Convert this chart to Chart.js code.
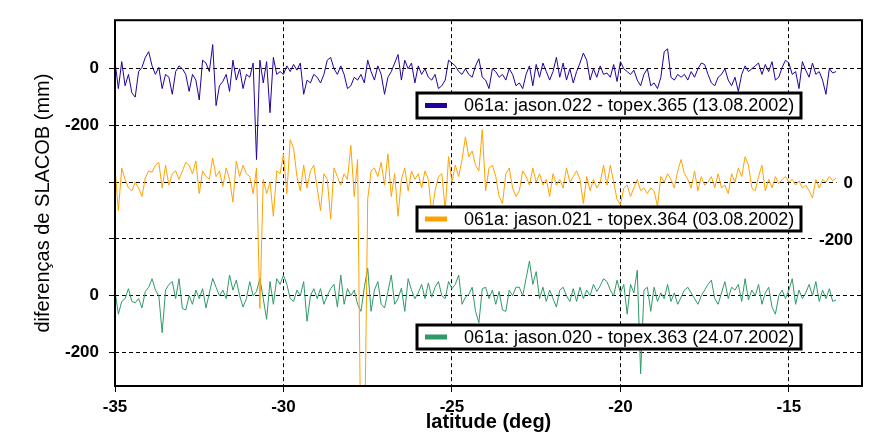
<!DOCTYPE html>
<html>
<head>
<meta charset="utf-8">
<style>
  html, body { margin: 0; padding: 0; background: #fff; }
  canvas { display: block; }
</style>
</head>
<body>
<canvas id="slacobChart" width="896" height="446"></canvas>
<script src="https://cdn.jsdelivr.net/npm/chart.js@4/dist/chart.umd.min.js"></script>
<script>
// latitude grid of the samples (deg), one sample every 0.1 deg from -35.0
const latStart = -35.0;
const latStep = 0.1;

// SLACOB differences (mm), -35.0 ... -13.6
const jason022 = [
  25, -70, 25, -60, -20, -85, -100, -10, 5, 40,
  60, 10, -20, 5, -70, -20, -30, -90, -10, 10,
  0, -20, -80, -20, -40, -110, 30, 20, -10, 85,
  -130, -60, -45, -20, -80, 30, -40, 0, -70, -20,
  -30, 20, -320, 30, -50, 25, -155, 40, -20, -10,
  -20, 10, -10, 15, -5, 20, -90, -40, -50, -20,
  -30, -50, -20, 30, 40, 0, -20, 10, -20, -70,
  -60, -30, -40, -20, -50, 30, -10, -40, 10, -20,
  -90, -30, -10, 20, 50, -40, 30, 0, 20, -50,
  10, -20, 0, -30, -40, -20, -70, -60, -40, 30,
  20, 10, -10, -20, 0, -20, -30, 10, 35, -30,
  -40, -70, 0, -10, -30, -20, -40, 0, -20, -60,
  -50, -70, -20, 10, -60, 15, -30, 20, -10, -40,
  -10, 40, -30, 20, -40, 0, -50, -10, 20, 55,
  30, -40, 0, -30, 10, -20, -15, -30, 15, -45,
  25, 0, -10, -20, -5, -40, -60, -20, 0, -60,
  -50, -70, -30, 60, 70, -30, -40, -20, -30, -20,
  -40, -10, -30, 0, 20, 15, -20, -50, -60, -30,
  -20, 0, -40, -60, -30, -80, -20, 10, -10, 0,
  10, 20, -20, 15, -10, 25, -40, -30, 5, 30,
  20, -20, -10, -70, 25, -5, -30, 20, -20, -10,
  -40, -90, 0, -15, -10
];
const jason021 = [
  50, -100, 50, 10, -20, -30, 0, -20, -50, 15,
  40, 35, 60, 70, -20, 60, -10, 30, 40, 10,
  40, 70, 60, 30, 75, -40, 40, 20, 10, 85,
  20, 40, -15, 50, 10, -70, 75, 20, 60, 30,
  20, -40, 50, -445, 10, -40, 0, -120, 40, 30,
  100, -40, 150, 120, 20, -30, 60, -20, 40, 60,
  -20, -100, 30, 10, -130, 50, 20, -10, 30, 10,
  130, -50, 80, -1000, -1000, -60, 40, 50, 20, 70,
  -10, 100, -50, 30, -120, 10, 50, -30, 40, 10,
  30, -20, 40, 10, -110, -30, 20, 30, -100, 90,
  0, 60, 20, 80, 160, 90, 110, 60, 40, 185,
  -30, 50, 60, 20, -50, -75, 30, 50, -20, -50,
  -30, 40, 20, -10, 50, 0, 30, -10, 10, -50,
  30, -10, 10, -20, 50, 0, 20, 40, 10, -75,
  20, -30, 10, -20, 0, 60, -10, 60, 0, -60,
  -80, -20, -10, -50, -20, 10, -30, -20, -40, -20,
  -30, -85, 20, 0, 30, 10, -20, 40, 80, 30,
  10, -20, 40, -30, 20, -10, 0, 20, -20, 30,
  -20, -10, -40, 30, 0, 50, 20, 90, 60, -20,
  -30, 20, 60, -30, 10, -20, 20, -5, 10, 20,
  0, 10, -10, 5, -20, -10, -30, -55, 10, -20,
  10, 0, 20, 5, 15
];
const jason020 = [
  15, -65, -20, -10, 25, -20, -25, -10, -43, 15,
  30, 60, 20, 0, -130, 20, 40, 50, -10, 60,
  -45, -50, 0, -30, 20, -10, 25, -43, 10, 61,
  30, 0, 20, -10, 73, 20, 55, 0, -40, -10,
  50, 0, 15, 60, -10, -83, 50, -30, 60, 40,
  73, 40, -10, -20, 20, 0, 50, -90, 0, 25,
  -10, 25, -30, 0, 25, 40, -40, 73, -30, 25,
  0, 20, -30, -55, 30, 97, -55, 20, 50, -30,
  -43, 15, 73, -30, -10, 27, -55, 60, 20, -10,
  10, 40, -10, 45, -5, 30, 50, 0, -10, 50,
  25, 40, 73, -30, -5, 5, 30, -55, -95, 25,
  30, -10, 20, -30, 15, -50, -55, 20, 0, 30,
  30, 0, 61, 122, 40, 85, -10, 30, -20, 20,
  -10, -40, 20, 30, 0, -20, 25, -20, 30, -10,
  20, 0, 40, 15, 35, 60, 50, 20, 0, 55,
  10, 40, -65, 40, 10, 90, -275, 20, 30, -55,
  30, -20, 10, -10, 40, -20, 10, -30, -5, 20,
  30, 10, -10, -30, 0, 20, 40, 55, -10, -30,
  10, 50, -10, 30, 20, 40, -20, 60, -15, 20,
  0, 40, -30, 10, 30, -40, -65, 0, 20, -10,
  20, 60, -30, 20, -10, 10, 40, 0, 50, -20,
  20, -10, 25, -20, -15
];

const seriesData = [jason022, jason021, jason020];
const seriesLabels = [
  "061a: jason.022 - topex.365 (13.08.2002)",
  "061a: jason.021 - topex.364 (03.08.2002)",
  "061a: jason.020 - topex.363 (24.07.2002)"
];
const seriesColors = ["#24009c", "#ffa200", "#2f9a66"];
// each trace is shifted down the common axis so they stack
const seriesOffsets = [0, -400, -800];

// tick labels: left axis shows the top and bottom trace, right side the middle one
const leftTickLabels = { "0": "0", "-200": "-200", "-800": "0", "-1000": "-200" };
const rightTickValues = [-400, -600];
const rightTickLabels = ["0", "-200"];

const FONT = 'Arial, "Liberation Sans", sans-serif';

const datasets = seriesData.map((values, s) => ({
  label: seriesLabels[s],
  data: values.map((v, i) => ({ x: latStart + i * latStep, y: v + seriesOffsets[s] })),
  borderColor: seriesColors[s],
  borderWidth: 1,
  pointRadius: 0,
  tension: 0,
  fill: false,
}));

const overlay = {
  id: "overlay",
  afterDatasetsDraw(chart) {
    const { ctx, chartArea: a, scales: { y } } = chart;
    ctx.save();

    // labels of the middle trace, on white, inside the right edge
    ctx.font = "bold 17px " + FONT;
    ctx.textAlign = "right";
    ctx.textBaseline = "middle";
    rightTickValues.forEach((v, i) => {
      const py = y.getPixelForValue(v);
      const w = ctx.measureText(rightTickLabels[i]).width;
      const x0 = 853 - w - 7;
      ctx.fillStyle = "#fff";
      ctx.fillRect(x0, py - 10, a.right - x0, 20);
      ctx.fillStyle = "#000";
      ctx.fillText(rightTickLabels[i], 853, py + 1);
    });

    // one legend box per trace
    const boxes = [[417, 93, 384, 25], [417, 207, 384, 24], [417, 325, 384, 24]];
    ctx.font = "18px " + FONT;
    ctx.textAlign = "left";
    boxes.forEach(([bx, by, bw, bh], i) => {
      ctx.fillStyle = "#fff";
      ctx.fillRect(bx, by, bw, bh);
      ctx.strokeStyle = "#000";
      ctx.lineWidth = 3;
      ctx.strokeRect(bx, by, bw, bh);
      const cy = by + bh / 2;
      ctx.strokeStyle = seriesColors[i];
      ctx.lineWidth = 5;
      ctx.beginPath();
      ctx.moveTo(425, cy);
      ctx.lineTo(447, cy);
      ctx.stroke();
      ctx.fillStyle = "#000";
      ctx.fillText(seriesLabels[i], 464, cy + 1);
    });

    // plot frame
    ctx.strokeStyle = "#000";
    ctx.lineWidth = 2;
    ctx.strokeRect(a.left, a.top, a.right - a.left, a.bottom - a.top);
    ctx.restore();
  },
};

new Chart(document.getElementById("slacobChart").getContext("2d"), {
  type: "line",
  data: { datasets },
  options: {
    responsive: false,
    animation: false,
    events: [],
    layout: { padding: { left: 0, right: 34, top: 16, bottom: 0 } },
    plugins: { legend: { display: false }, tooltip: { enabled: false } },
    scales: {
      x: {
        type: "linear",
        min: -35,
        max: -12.83,
        afterFit: (scale) => { scale.height = 60; },
        ticks: {
          stepSize: 5,
          includeBounds: false,
          color: "#000",
          padding: 5,
          maxRotation: 0,
          font: { family: FONT, size: 17, weight: "bold" },
        },
        grid: { color: "#000", lineWidth: 1, tickLength: 6 },
        border: { display: false, dash: [4, 3] },
        title: {
          display: true,
          text: "latitude (deg)",
          color: "#000",
          font: { family: FONT, size: 20, weight: "bold" },
          padding: { top: 0, bottom: 12 },
        },
      },
      y: {
        type: "linear",
        min: -1118,
        max: 171,
        afterFit: (scale) => { scale.width = 115; },
        ticks: {
          stepSize: 200,
          includeBounds: false,
          color: "#000",
          padding: 10,
          font: { family: FONT, size: 17, weight: "bold" },
          callback: (v) => leftTickLabels[String(v)] || "",
        },
        grid: { color: "#000", lineWidth: 1, tickLength: 6 },
        border: { display: false, dash: [4, 3] },
        title: {
          display: true,
          text: "diferenças de SLACOB (mm)",
          color: "#000",
          font: { family: FONT, size: 20 },
          padding: { top: 31, bottom: 0 },
        },
      },
    },
  },
  plugins: [overlay],
});
</script>
</body>
</html>
